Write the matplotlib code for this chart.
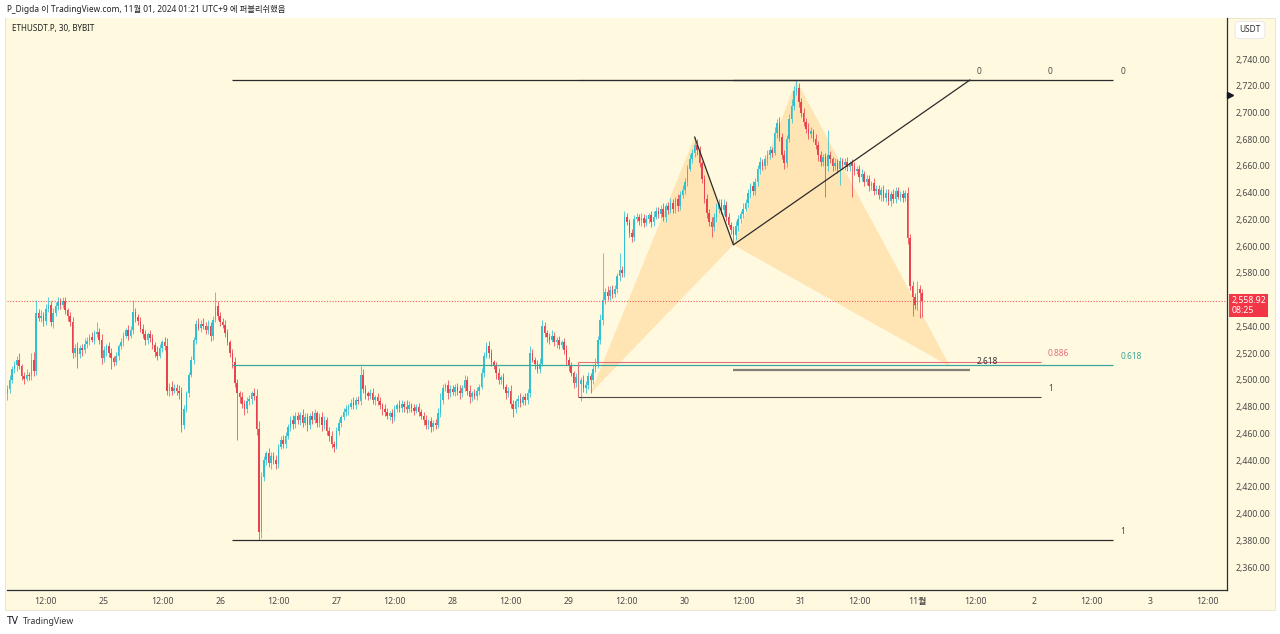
import matplotlib
matplotlib.use('Agg')
import matplotlib.pyplot as plt
import matplotlib.transforms as mtransforms
from matplotlib.patches import Rectangle, Polygon

# 30m ETHUSDT.P candles, bar 40 = Oct 25 00:00
first_open = 2490
closes = [
    2493, 2500, 2508, 2511, 2515, 2510, 2503, 2501, 2504, 2503,
    2515, 2507, 2550, 2546, 2548, 2544, 2553, 2556, 2543, 2550,
    2555, 2558, 2556, 2559, 2552, 2548, 2543, 2520, 2524, 2519,
    2524, 2522, 2527, 2529, 2532, 2530, 2534, 2536, 2530, 2516,
    2522, 2525, 2520, 2516, 2513, 2518, 2525, 2528, 2533, 2537,
    2533, 2537, 2551, 2547, 2544, 2538, 2534, 2530, 2534, 2531,
    2526, 2521, 2518, 2524, 2528, 2525, 2492, 2495, 2492, 2494,
    2492, 2490, 2466, 2478, 2490, 2504, 2515, 2530, 2542, 2539,
    2542, 2540, 2537, 2540, 2533, 2545, 2555, 2548, 2543, 2541,
    2535, 2528, 2520, 2513, 2498, 2490, 2487, 2482, 2478, 2484,
    2486, 2490, 2488, 2463, 2386, 2427, 2440, 2445, 2438, 2443,
    2440, 2437, 2450, 2455, 2452, 2458, 2465, 2470, 2467, 2473,
    2470, 2474, 2468, 2472, 2466, 2473, 2470, 2475, 2468, 2472,
    2466, 2470, 2462, 2458, 2452, 2450, 2462, 2468, 2472, 2476,
    2478, 2480, 2483, 2481, 2485, 2484, 2504, 2493, 2490, 2488,
    2490, 2485, 2487, 2484, 2481, 2478, 2476, 2473, 2475, 2472,
    2478, 2481, 2479, 2482, 2480, 2478, 2481, 2479, 2477, 2480,
    2476, 2473, 2470, 2466, 2469, 2465, 2468, 2466, 2475, 2485,
    2494, 2496, 2490, 2493, 2491, 2495, 2492, 2490, 2494, 2500,
    2492, 2487, 2490, 2488, 2492, 2495, 2505, 2518, 2525, 2520,
    2513, 2510, 2505, 2500, 2502, 2495, 2490, 2492, 2482, 2478,
    2484, 2486, 2483, 2487, 2485, 2490, 2520, 2515, 2512, 2508,
    2512, 2540, 2535, 2532, 2530, 2533, 2528, 2530, 2526, 2528,
    2522, 2515, 2510, 2505, 2498, 2502, 2497, 2500, 2494, 2496,
    2503, 2500, 2508, 2512, 2530, 2545, 2560, 2566, 2563, 2567,
    2564, 2568, 2578, 2582, 2580, 2622, 2618, 2610, 2607, 2620,
    2622, 2619, 2621, 2617, 2620, 2623, 2618, 2622, 2626, 2624,
    2628, 2622, 2630, 2627, 2632, 2628, 2635, 2630, 2638, 2642,
    2648, 2658, 2665, 2670, 2676, 2672, 2662, 2650, 2635, 2625,
    2618, 2614, 2622, 2628, 2632, 2627, 2631, 2622, 2616, 2612,
    2608, 2615, 2620, 2624, 2628, 2632, 2640, 2645, 2641, 2648,
    2658, 2663, 2660, 2665, 2668, 2672, 2670, 2685, 2692, 2682,
    2668, 2662, 2680, 2695, 2705, 2716, 2718, 2708, 2700, 2693,
    2688, 2684, 2686, 2680, 2676, 2668, 2663, 2667, 2660, 2668,
    2665, 2660, 2662, 2658, 2664, 2661, 2663, 2659, 2662, 2660,
    2656, 2658, 2652, 2654, 2648, 2650, 2645, 2647, 2641, 2643,
    2638, 2642, 2636, 2640, 2634, 2639, 2635, 2641, 2637, 2639,
    2636, 2640, 2606, 2570, 2562, 2556, 2568, 2565, 2558.92,
]
up_wick = [
    3, 4, 2, 3, 3, 5, 2, 3, 4, 2,
    5, 6, 10, 3, 4, 3, 4, 6, 3, 4,
    3, 4, 3, 3, 3, 2, 3, 4, 3, 4,
    2, 3, 4, 3, 2, 4, 3, 7, 3, 4,
    3, 2, 3, 4, 2, 3, 2, 3, 3, 2,
    4, 3, 9, 3, 2, 3, 4, 3, 2, 3,
    3, 2, 4, 3, 2, 4, 6, 3, 4, 3,
    3, 4, 5, 3, 2, 2, 3, 2, 3, 4,
    3, 4, 3, 5, 3, 3, 11, 4, 3, 3,
    4, 3, 2, 3, 4, 3, 2, 4, 3, 3,
    3, 2, 4, 5, 6, 4, 3, 2, 4, 3,
    3, 4, 2, 3, 4, 3, 2, 3, 4, 3,
    3, 2, 4, 3, 3, 2, 4, 3, 2, 3,
    4, 3, 2, 3, 4, 2, 3, 3, 2, 3,
    3, 2, 3, 4, 2, 3, 6, 4, 3, 2,
    3, 4, 2, 3, 3, 2, 4, 3, 2, 3,
    3, 2, 4, 3, 2, 5, 3, 2, 3, 2,
    3, 2, 3, 4, 2, 3, 2, 3, 4, 5,
    3, 2, 4, 3, 3, 2, 3, 4, 2, 4,
    3, 4, 2, 3, 3, 2, 4, 3, 3, 4,
    3, 2, 3, 4, 2, 3, 2, 3, 4, 3,
    2, 3, 4, 2, 3, 3, 5, 3, 2, 3,
    4, 5, 3, 2, 3, 4, 3, 2, 3, 2,
    3, 4, 2, 3, 2, 3, 3, 2, 4, 3,
    3, 2, 3, 4, 3, 4, 35, 3, 4, 3,
    4, 3, 2, 13, 3, 4, 3, 2, 3, 3,
    3, 2, 4, 3, 3, 2, 3, 4, 3, 3,
    3, 4, 2, 3, 4, 3, 2, 4, 3, 4,
    3, 3, 4, 3, 6, 4, 3, 2, 3, 4,
    3, 4, 3, 4, 3, 3, 4, 3, 3, 2,
    3, 4, 3, 2, 4, 3, 3, 2, 4, 3,
    3, 4, 2, 3, 4, 3, 2, 4, 3, 5,
    3, 4, 3, 4, 5, 4, 6, 4, 3, 3,
    3, 4, 3, 2, 4, 3, 3, 2, 3, 19,
    3, 2, 4, 3, 3, 2, 3, 4, 2, 3,
    3, 2, 3, 4, 2, 3, 3, 2, 4, 3,
    3, 2, 4, 3, 3, 2, 4, 3, 3, 2,
    3, 2, 4, 3, 4, 3, 6, 3, 3,
]
dn_wick = [
    5, 3, 2, 3, 4, 2, 3, 4, 2, 3,
    3, 4, 3, 2, 3, 4, 3, 2, 3, 4,
    2, 3, 3, 2, 3, 4, 3, 4, 3, 10,
    3, 4, 2, 3, 3, 2, 3, 2, 3, 4,
    3, 4, 3, 8, 3, 2, 3, 2, 3, 2,
    3, 2, 3, 4, 3, 2, 3, 4, 3, 3,
    3, 4, 3, 2, 3, 3, 3, 4, 3, 2,
    3, 4, 5, 3, 2, 3, 2, 3, 3, 2,
    3, 2, 3, 3, 4, 3, 2, 3, 3, 2,
    3, 2, 3, 4, 3, 35, 4, 3, 4, 3,
    3, 4, 3, 4, 6, 4, 3, 4, 3, 5,
    3, 4, 3, 2, 3, 3, 2, 3, 4, 3,
    3, 4, 3, 2, 4, 3, 3, 2, 3, 3,
    4, 3, 3, 4, 3, 4, 2, 3, 3, 2,
    3, 4, 2, 3, 3, 2, 3, 3, 4, 3,
    2, 3, 4, 3, 3, 4, 3, 2, 3, 4,
    3, 2, 3, 3, 4, 3, 2, 3, 3, 2,
    3, 2, 4, 3, 3, 4, 3, 3, 2, 3,
    3, 2, 4, 3, 2, 3, 3, 4, 3, 2,
    3, 4, 3, 2, 3, 3, 2, 3, 2, 4,
    3, 2, 4, 3, 3, 2, 4, 3, 3, 6,
    3, 4, 3, 2, 4, 3, 3, 2, 4, 3,
    3, 2, 3, 4, 3, 2, 3, 4, 3, 2,
    3, 4, 3, 2, 4, 3, 4, 13, 3, 4,
    3, 10, 3, 2, 3, 3, 4, 3, 3, 3,
    3, 2, 3, 4, 3, 3, 2, 3, 4, 3,
    2, 3, 4, 3, 2, 3, 4, 3, 2, 3,
    3, 3, 4, 3, 2, 3, 3, 4, 3, 2,
    3, 3, 2, 3, 3, 4, 3, 3, 3, 4,
    3, 7, 3, 4, 3, 3, 4, 3, 2, 3,
    6, 3, 4, 3, 3, 2, 3, 4, 3, 3,
    3, 4, 3, 2, 4, 3, 3, 2, 4, 3,
    3, 4, 3, 2, 3, 3, 3, 4, 3, 3,
    3, 4, 3, 2, 3, 4, 3, 3, 23, 4,
    3, 4, 3, 3, 12, 3, 4, 3, 3, 23,
    3, 2, 4, 3, 3, 2, 4, 3, 3, 2,
    3, 4, 2, 3, 3, 4, 3, 3, 2, 3,
    3, 2, 4, 3, 14, 3, 4, 19, 12,
]

last_price = 2558.92
# 2,560 is hidden behind the last-price tag in the reference
price_ticks = [v for v in range(2360, 2741, 20) if v != 2560]
time_tick_bars = [16 + 24 * i for i in range(21)]
time_tick_labels = ['12:00', '25', '12:00', '26', '12:00', '27', '12:00', '28',
                    '12:00', '29', '12:00', '30', '12:00', '31', '12:00', '11월',
                    '12:00', '2', '12:00', '3', '12:00']

# drawings (bar index, price)
fib_big_span = (93, 457)
fib_big_levels = [('0', 2724.3), ('0.618', 2511.3), ('1', 2380.2)]
fib_mid_span = (236, 427)
fib_mid_levels = [('0', 2724.3), ('0.886', 2513.5), ('1', 2487.2)]
ext_span = (300, 397.7)
ext_levels = [('0', 2724.3), ('2.618', 2507.4)]
ext_line_x = [284, 300, 397.7]
ext_line_y = [2681.6, 2601, 2724.3]
pattern_x = [241, 284, 300, 326, 389.5]
pattern_y = [2490, 2681.6, 2601, 2724, 2510]
marker_price = 2713

BG = '#fff9e0'
BULL = '#2fc0d2'
BEAR = '#e8434f'
TXT = '#4a4a4a'
FONT = ['Noto Sans', 'Noto Sans CJK KR', 'DejaVu Sans']
plt.rcParams['font.family'] = FONT

fig = plt.figure(figsize=(12.8, 6.34), dpi=100)
fig.patch.set_facecolor('white')
fig.patches.append(Rectangle((5 / 1280, 24 / 634), 1270 / 1280, 592 / 634,
                             transform=fig.transFigure, facecolor=BG,
                             edgecolor='#e6e1c8', lw=0.6, zorder=-10))

ax = fig.add_axes([7 / 1280, 44 / 634, 1220 / 1280, 572 / 634])
ax.set_facecolor(BG)
ax.set_xlim(-0.07, 503.9)
ax.set_ylim(2342.8, 2770.7)

# candles
opens = [first_open] + closes[:-1]
for k, (o, c, uw, dw) in enumerate(zip(opens, closes, up_wick, dn_wick)):
    col = BULL if c >= o else BEAR
    hi = max(o, c) + uw
    lo = min(o, c) - dw
    ax.vlines(k, lo, hi, color=col, lw=0.55, zorder=3)
    ax.bar(k, max(abs(c - o), 0.6), bottom=min(o, c), width=0.65,
           color=col, linewidth=0, zorder=3)

# harmonic pattern fill
ax.add_patch(Polygon(list(zip(pattern_x[:3], pattern_y[:3])), closed=True,
                     facecolor='#ffc878', alpha=0.42, edgecolor='none', zorder=2))
ax.add_patch(Polygon(list(zip(pattern_x[2:], pattern_y[2:])), closed=True,
                     facecolor='#ffc878', alpha=0.42, edgecolor='none', zorder=2))

# fib levels
def level_label(x, y, text, color):
    ax.annotate(text, xy=(x, y), xytext=(5, 3), textcoords='offset points',
                ha='left', va='bottom', fontsize=6, color=color, zorder=6)

big_colors = {'0': '#2b2b2b', '0.618': '#3aa89c', '1': '#2b2b2b'}
for name, y in fib_big_levels:
    ax.hlines(y, fib_big_span[0], fib_big_span[1], color=big_colors[name], lw=0.9, zorder=4)
    level_label(fib_big_span[1], y, name, '#3aa89c' if name == '0.618' else TXT)

mid_colors = {'0': '#2b2b2b', '0.886': '#e0707a', '1': '#4a4a4a'}
for name, y in fib_mid_levels:
    ax.hlines(y, fib_mid_span[0], fib_mid_span[1], color=mid_colors[name], lw=0.8, zorder=4)
    level_label(fib_mid_span[1], y, name, '#e0707a' if name == '0.886' else TXT)
ax.vlines(fib_mid_span[0], fib_mid_levels[2][1], fib_mid_levels[1][1],
          color='#e0707a', lw=0.8, zorder=4)

for name, y in ext_levels:
    ax.hlines(y, ext_span[0], ext_span[1], color='#2b2b2b' if name == '0' else '#808078',
              lw=0.9 if name == '0' else 1.6, zorder=4)
    level_label(ext_span[1], y, name, TXT if name == '0' else '#333333')
ax.plot(ext_line_x, ext_line_y, color='#2b2b2b', lw=0.9, zorder=5)

# last price line and tag
ax.axhline(last_price, color='#f23645', lw=0.8, ls=(0, (1, 1.5)), alpha=0.8, zorder=4)
ax.annotate(f'{last_price:,.2f}\n08:25', xy=(1, last_price),
            xycoords=('axes fraction', 'data'), xytext=(3, 3.5),
            textcoords='offset points', ha='left', va='top', fontsize=6.3,
            color='white', linespacing=1.05, annotation_clip=False,
            bbox=dict(boxstyle='square,pad=0.28', fc='#f23645', ec='none'))
marker_tr = mtransforms.offset_copy(ax.transData, fig=fig, x=3, y=0, units='dots')
ax.plot([ax.get_xlim()[1]], [marker_price], marker='>', color='#131722',
        ms=4.5, clip_on=False, zorder=6, transform=marker_tr)

# axes styling
for s in ['top', 'left']:
    ax.spines[s].set_visible(False)
for s in ['right', 'bottom']:
    ax.spines[s].set_color('#2a2e39')
    ax.spines[s].set_linewidth(0.9)
ax.yaxis.tick_right()
ax.set_yticks(price_ticks)
ax.set_yticklabels([f'{v:,.2f}' for v in price_ticks])
ax.tick_params(axis='y', length=0, pad=6, labelsize=6.3, labelcolor=TXT)
ax.set_xticks(time_tick_bars)
ax.set_xticklabels(time_tick_labels)
ax.tick_params(axis='x', length=0, pad=5, labelsize=6.3, labelcolor=TXT)
for lbl in ax.get_xticklabels():
    if lbl.get_text() == '11월':
        lbl.set_fontweight('bold')

# header / footer texts
fig.text(7 / 1280, 1 - 10 / 634, 'P_Digda 이 TradingView.com, 11월 01, 2024 01:21 UTC+9 에 퍼블리쉬했음',
         fontsize=6.0, color='#222222', va='center', ha='left')
fig.text(12 / 1280, 1 - 29 / 634, 'ETHUSDT.P, 30, BYBIT', fontsize=5.8,
         color='#222222', va='center', ha='left')
fig.text(1250 / 1280, 1 - 30 / 634, 'USDT', fontsize=6.0, color='#333333',
         ha='center', va='center',
         bbox=dict(boxstyle='round,pad=0.5', fc='white', ec='#e6e6e6', lw=0.6))
fig.text(7 / 1280, 1 - 621 / 634, 'TV', fontsize=7.5, fontweight='bold',
         color='#131722', va='center', ha='left')
fig.text(23 / 1280, 1 - 621 / 634, 'TradingView', fontsize=6.3,
         color='#333333', va='center', ha='left')

fig.savefig('out.png', dpi=100, facecolor=fig.get_facecolor())
